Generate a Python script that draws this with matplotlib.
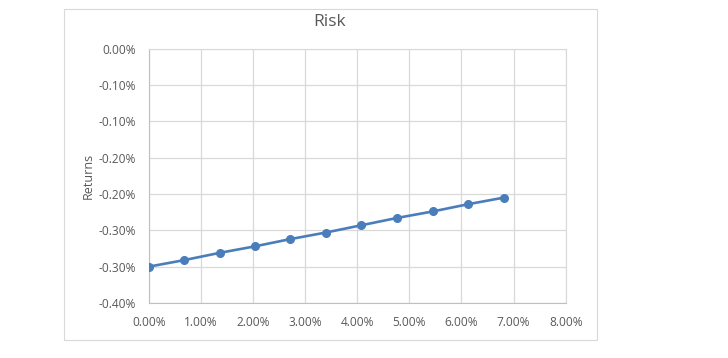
import matplotlib.pyplot as plt
from matplotlib.patches import Rectangle

# data (values in percent)
risk = [0.0, 0.68, 1.36, 2.04, 2.72, 3.40, 4.08, 4.76, 5.45, 6.13, 6.81]
returns = [-0.300, -0.291, -0.281, -0.272, -0.262, -0.253, -0.243,
           -0.233, -0.224, -0.214, -0.205]

x_ticks = [0, 1, 2, 3, 4, 5, 6, 7, 8]
x_labels = ["0.00%", "1.00%", "2.00%", "3.00%", "4.00%", "5.00%",
            "6.00%", "7.00%", "8.00%"]
y_ticks = [0, -0.05, -0.10, -0.15, -0.20, -0.25, -0.30, -0.35]
y_labels = ["0.00%", "-0.10%", "-0.10%", "-0.20%", "-0.20%", "-0.30%",
            "-0.30%", "-0.40%"]

plt.rcParams['font.family'] = ['Open Sans', 'DejaVu Sans']
W, H = 728, 358
fig = plt.figure(figsize=(W / 100, H / 100), dpi=100)

# outer chart frame
fig.patches.append(Rectangle((64 / W, 1 - 340 / H), (597 - 64) / W, (340 - 9) / H,
                             transform=fig.transFigure, fill=False,
                             edgecolor="#d9d9d9", linewidth=0.8))

ax = fig.add_axes([148.7 / W, 1 - 303 / H, 417 / W, 254.3 / H])
ax.plot(risk, returns, color="#4a7ebb", linewidth=1.9, marker="o",
        markersize=5.5, zorder=3)

ax.set_xlim(0, 8)
ax.set_ylim(-0.35, 0)
ax.set_xticks(x_ticks)
ax.set_xticklabels(x_labels)
ax.set_yticks(y_ticks)
ax.set_yticklabels(y_labels)
ax.tick_params(length=0, labelsize=8.6, colors="#595959")
ax.tick_params(axis="x", pad=9)
ax.tick_params(axis="y", pad=9)
ax.grid(True, color="#d9d9d9", linewidth=0.9)
ax.set_axisbelow(True)
for s in ax.spines.values():
    s.set_color("#d9d9d9")
ax.spines["left"].set_color("#bfbfbf")
ax.spines["bottom"].set_color("#bfbfbf")

ax.set_ylabel("Returns", fontsize=9, color="#595959", labelpad=3)
fig.text(330 / W, 1 - 22 / H, "Risk", ha="center", va="center",
         fontsize=12.5, color="#595959")

fig.savefig("out.png", dpi=100)
